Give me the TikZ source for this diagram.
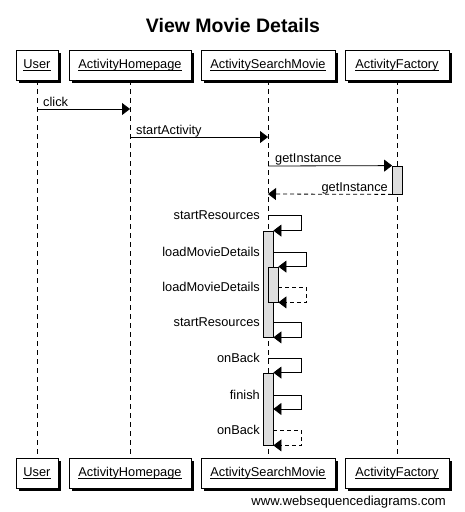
\documentclass[tikz,border=0pt]{standalone}
\usepackage{fontspec}
\setmainfont{Liberation Sans}
\usetikzlibrary{arrows.meta,shadows}

\newcommand{\uname}[1]{\setbox0\hbox{#1}\dp0=0pt\underline{\box0}}

\begin{document}
\begin{tikzpicture}[x=1pt,y=-1pt,
  font=\fontsize{12.8}{15}\selectfont,
  actor/.style={draw,fill=white,minimum height=30pt,inner sep=0pt,line width=0.8pt,
    drop shadow={shadow xshift=3pt,shadow yshift=-3pt,fill=black,opacity=1}},
  life/.style={dash pattern=on 5pt off 4pt,line width=0.8pt},
  msg/.style={-{Triangle[length=8pt,width=12pt]},line width=0.8pt},
  ret/.style={msg,dash pattern=on 4pt off 3pt},
  act/.style={draw,fill=black!13,minimum width=10pt,inner sep=0pt,line width=0.8pt},
  lbl/.style={inner sep=0pt}]
  \useasboundingbox (0,0) rectangle (464,512);

  % Title
  \node[lbl,anchor=base,font=\fontsize{19.5}{22}\selectfont\bfseries] (title) at (233,32) {View Movie Details};

  % Participants (top)
  \node[actor,minimum width=42pt] (user) at (37,65) {\uname{User}};
  \node[actor,minimum width=122pt] (home) at (130,65) {\uname{ActivityHomepage}};
  \node[actor,minimum width=134pt] (search) at (268,65) {\uname{ActivitySearchMovie}};
  \node[actor,minimum width=104pt] (factory) at (397,65) {\uname{ActivityFactory}};

  % Participants (bottom)
  \node[actor,minimum width=42pt] (user2) at (37,473) {\uname{User}};
  \node[actor,minimum width=122pt] (home2) at (130,473) {\uname{ActivityHomepage}};
  \node[actor,minimum width=134pt] (search2) at (268,473) {\uname{ActivitySearchMovie}};
  \node[actor,minimum width=104pt] (factory2) at (397,473) {\uname{ActivityFactory}};

  % Lifelines
  \draw[life] (user) -- (user2);
  \draw[life] (home) -- (home2);
  \draw[life] (search) -- (search2);
  \draw[life] (factory) -- (factory2);

  % Activations
  \node[act,minimum height=28pt] (fa) at (397.5,180) {};
  \node[act,minimum height=106pt] (sa1) at (268,284) {};
  \node[act,minimum height=35pt] (sa2) at (273,284.5) {};
  \node[act,minimum height=72pt] (sa3) at (268,409) {};

  % Messages
  \draw[msg] (user |- 0,109) -- (home |- 0,109);
  \node[lbl,anchor=base west] (mclick) at (43,106) {click};
  \draw[msg] (home |- 0,137) -- (search |- 0,137);
  \node[lbl,anchor=base west] (mstart) at (136,134) {startActivity};
  \draw[msg] (search |- 0,166) -- (fa.north west);
  \node[lbl,anchor=base west] (mget) at (275,162) {getInstance};
  \draw[ret] (fa.south west) -- (search |- 0,194);
  \node[lbl,anchor=base east] (mgetr) at (388,191) {getInstance};

  % Self messages
  \draw[msg] (search |- 0,215) -- ++(33,0) |- (sa1.north east);
  \node[lbl,anchor=base east] (mres) at (260,219) {startResources};
  \draw[msg] (sa1.east |- 0,252) -- ++(33,0) |- (sa2.north east);
  \node[lbl,anchor=base east] (mload) at (260,256) {loadMovieDetails};
  \draw[ret] (sa2.east |- 0,287) -- ++(28,0) |- (sa2.south east);
  \node[lbl,anchor=base east] (mloadr) at (260,291) {loadMovieDetails};
  \draw[msg] (sa1.east |- 0,322) -- ++(28,0) |- (sa1.south east);
  \node[lbl,anchor=base east] (mresr) at (260,326) {startResources};
  \draw[msg] (search |- 0,358) -- ++(33,0) |- (sa3.north east);
  \node[lbl,anchor=base east] (mback) at (260,362) {onBack};
  \draw[msg] (sa3.east |- 0,395) -- ++(28,0) |- (sa3.east |- 0,409);
  \node[lbl,anchor=base east] (mfin) at (260,399) {finish};
  \draw[ret] (sa3.east |- 0,430) -- ++(28,0) |- (sa3.south east);
  \node[lbl,anchor=base east] (mbackr) at (260,434) {onBack};

  % Watermark
  \node[lbl,anchor=base east,font=\fontsize{13.1}{15}\selectfont] (wsd) at (446,505) {www.websequencediagrams.com};
\end{tikzpicture}
\end{document}
